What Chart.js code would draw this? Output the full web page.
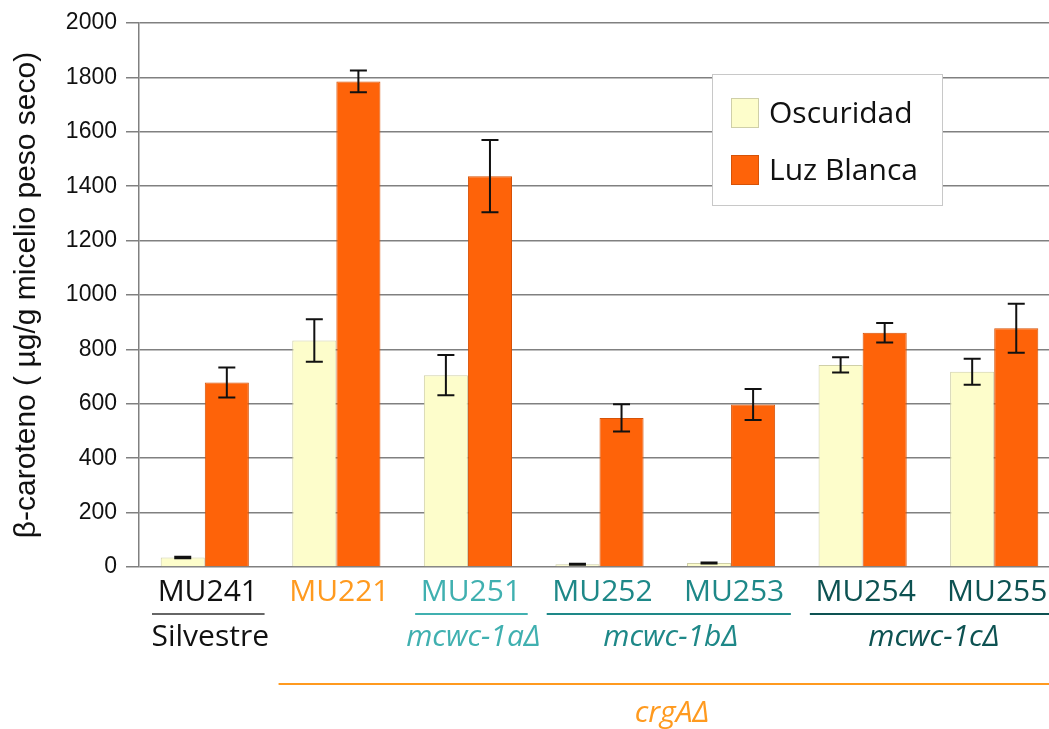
<!DOCTYPE html>
<html>
<head>
<meta charset="utf-8">
<script src="https://cdn.jsdelivr.net/npm/chart.js@4"></script>
<style>
  html, body { margin: 0; padding: 0; background: #fff; overflow: hidden; }
  #wrap { position: absolute; left: 0; top: 0; width: 1062px; height: 729px; }
</style>
</head>
<body>
<div id="wrap"><canvas id="caroteneChart"></canvas></div>
<script>
// --- Data ---
const strains = ['MU241', 'MU221', 'MU251', 'MU252', 'MU253', 'MU254', 'MU255'];
const strainColors = ['#111111', '#ff9a1f', '#40b0b0', '#1e8888', '#1e8888', '#0d5252', '#0d5252'];
const darkValues = [35, 833, 705, 10, 15, 743, 718];
const darkErrors = [3, 78, 74, 2, 2, 28, 48];
const lightValues = [678, 1785, 1437, 548, 597, 861, 878];
const lightErrors = [55, 40, 133, 50, 57, 36, 90];
const yTicks = [0, 200, 400, 600, 800, 1000, 1200, 1400, 1600, 1800, 2000];

// group labels under the strains: [text, first index, last index, colour, italic]
const groups = [
  ['Silvestre', 0, 0, '#111111', false],
  ['mcwc-1aΔ', 2, 2, '#40b0b0', true],
  ['mcwc-1bΔ', 3, 4, '#1e8888', true],
  ['mcwc-1cΔ', 5, 6, '#0d5252', true]
];
const outerGroup = ['crgAΔ', 1, 6, '#ff9a1f'];

const labelFont = '"Open Sans", "DejaVu Sans", sans-serif';

// --- Error bars ---
const errorBars = {
  id: 'errorBars',
  afterDatasetsDraw(chart) {
    const { ctx, scales: { y } } = chart;
    ctx.save();
    ctx.strokeStyle = '#111';
    ctx.lineWidth = 2;
    chart.data.datasets.forEach((ds, di) => {
      const meta = chart.getDatasetMeta(di);
      meta.data.forEach((bar, i) => {
        const v = ds.data[i], e = ds.errors[i];
        const top = y.getPixelForValue(v + e);
        const bot = y.getPixelForValue(v - e);
        const x = bar.x;
        ctx.beginPath();
        ctx.moveTo(x, top); ctx.lineTo(x, bot);
        ctx.moveTo(x - 8.5, top); ctx.lineTo(x + 8.5, top);
        ctx.moveTo(x - 8.5, bot); ctx.lineTo(x + 8.5, bot);
        ctx.stroke();
      });
    });
    ctx.restore();
  }
};

// --- Strain labels, group lines ---
const strainLabels = {
  id: 'strainLabels',
  afterDraw(chart) {
    const { ctx, scales: { x } } = chart;
    const cw = x.width / strains.length;
    ctx.save();
    ctx.textAlign = 'center';
    ctx.textBaseline = 'middle';
    ctx.font = '30px ' + labelFont;
    strains.forEach((s, i) => {
      ctx.fillStyle = strainColors[i];
      ctx.fillText(s, x.getPixelForValue(i) + 3, 592);
    });

    ctx.lineWidth = 2;
    groups.forEach(([text, a, b, color, italic]) => {
      const left = x.getPixelForValue(a) - cw / 2 + 13;
      const right = x.getPixelForValue(b) + cw / 2 - 6;
      ctx.strokeStyle = color === '#111111' ? '#666' : color;
      ctx.beginPath();
      ctx.moveTo(left, 614); ctx.lineTo(right, 614);
      ctx.stroke();
      ctx.fillStyle = color;
      ctx.font = (italic ? 'italic ' : '') + '30px ' + labelFont;
      ctx.fillText(text, (left + right) / 2 + 2, 637);
    });

    const [text, a, b, color] = outerGroup;
    const left = x.getPixelForValue(a) - cw / 2 + 8;
    const right = x.getPixelForValue(b) + cw / 2;
    ctx.strokeStyle = color;
    ctx.beginPath();
    ctx.moveTo(left, 684); ctx.lineTo(right, 684);
    ctx.stroke();
    ctx.fillStyle = color;
    ctx.font = 'italic 30px ' + labelFont;
    ctx.fillText(text, 672, 713);
    ctx.restore();
  }
};

// --- Legend box inside the plot ---
const boxLegend = {
  id: 'boxLegend',
  afterDraw(chart) {
    const { ctx } = chart;
    ctx.save();
    ctx.fillStyle = '#fff';
    ctx.fillRect(712, 74, 230, 131);
    ctx.strokeStyle = '#c8c8c8';
    ctx.lineWidth = 1;
    ctx.strokeRect(712.5, 74.5, 230, 131);
    ctx.font = '30px ' + labelFont;
    ctx.textBaseline = 'middle';
    ctx.textAlign = 'left';
    chart.data.datasets.forEach((ds, i) => {
      const top = 98 + i * 57;
      ctx.fillStyle = ds.backgroundColor;
      ctx.fillRect(731, top, 28, 30);
      ctx.strokeStyle = ds.borderColor;
      ctx.strokeRect(731.5, top + 0.5, 27, 29);
      ctx.fillStyle = '#111';
      ctx.fillText(ds.label, 769, top + 16);
    });
    ctx.restore();
  }
};

const chart = new Chart(document.getElementById('caroteneChart'), {
  type: 'bar',
  data: {
    labels: strains,
    datasets: [
      {
        label: 'Oscuridad',
        data: darkValues,
        errors: darkErrors,
        backgroundColor: '#fdfdcb',
        borderColor: '#cfcfa8',
        borderWidth: 1,
        barPercentage: 1,
        categoryPercentage: 0.67
      },
      {
        label: 'Luz Blanca',
        data: lightValues,
        errors: lightErrors,
        backgroundColor: '#fe6309',
        borderColor: '#d65207',
        borderWidth: 1,
        barPercentage: 1,
        categoryPercentage: 0.67
      }
    ]
  },
  options: {
    responsive: true,
    maintainAspectRatio: false,
    animation: false,
    layout: { padding: { top: 23, right: 2, left: 0, bottom: 0 } },
    plugins: {
      legend: { display: false },
      tooltip: { enabled: false }
    },
    scales: {
      x: {
        ticks: { display: false },
        grid: { display: false },
        border: { display: false },
        afterFit(scale) { scale.height = 162; }
      },
      y: {
        min: 0,
        max: 2000,
        afterBuildTicks(scale) { scale.ticks = yTicks.map(v => ({ value: v })); },
        afterFit(scale) { scale.width = 139; },
        ticks: {
          color: '#111',
          padding: 9,
          callback: v => String(v),
          font: { family: '"Liberation Sans", Arial, sans-serif', size: 23 }
        },
        grid: { color: '#808080', lineWidth: 1.5, tickLength: 13 },
        border: { color: '#808080', width: 1.5 },
        title: {
          display: true,
          text: 'β-caroteno ( µg/g micelio peso seco)',
          color: '#111',
          padding: { top: 9, bottom: 0 },
          font: { family: '"Liberation Sans", Arial, sans-serif', size: 30 }
        }
      }
    }
  },
  plugins: [errorBars, strainLabels, boxLegend]
});
</script>
</body>
</html>
